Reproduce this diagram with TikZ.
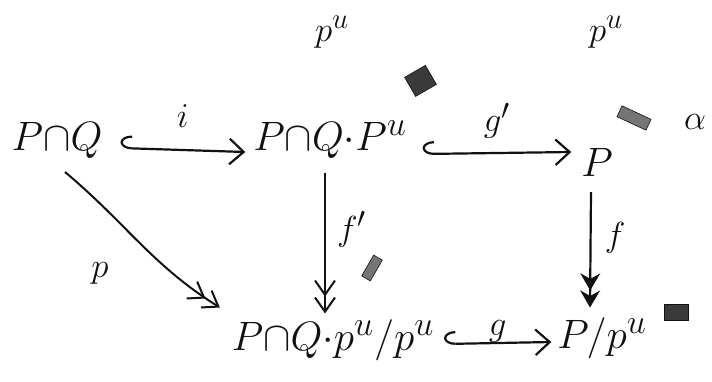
\documentclass[tikz,border=0pt]{standalone}
\usepackage{amsmath,amssymb}
\usepackage{tikz}
\usetikzlibrary{arrows.meta,positioning,calc}
\definecolor{ink}{HTML}{111111}
\definecolor{blot}{HTML}{3A3A3A}
\tikzset{
  obj/.style={inner sep=1pt, font=\Huge, scale=1.65, text=ink},
  lbl/.style={inner sep=2pt, font=\Huge, scale=1.4, text=ink},
  mono/.style={{Hooks[right,length=4mm,width=9mm]}-{Straight Barb[length=5mm,width=9mm]}, line width=2.2pt, color=ink},
  epi/.style={-{Straight Barb[length=5mm,width=7mm]Straight Barb[length=5mm,width=7mm]}, line width=2pt, color=ink},
  epifill/.style={-{Stealth[length=6mm,width=7mm]Stealth[length=6mm,width=7mm]}, line width=2.2pt, color=ink},
  scribble/.style={fill=blot, draw=ink, line width=.6pt}
}
\begin{document}
\begin{tikzpicture}[x=1pt,y=-1pt]
  \useasboundingbox (0,0) rectangle (712,381);

  % objects
  \node[obj] (pq)  at (57,140)  {$P{\cap}Q$};
  \node[obj] (mid) at (330,140) {$P{\cap}Q{\cdot}P^{u}$};
  \node[obj] (p)   at (597,162) {$P$};
  \node[obj] (bot) at (333,340) {$P{\cap}Q{\cdot}p^{u}/p^{u}$};
  \node[obj] (pp)  at (602,338) {$P/p^{u}$};

  % loose labels
  \node[lbl] (pu1) at (332,32) {$p^{u}$};
  \node[lbl] (pu2) at (606,32) {$p^{u}$};
  \node[lbl] (al)  at (695,122) {$\alpha$};

  % arrows
  \draw[mono] ($(pq.east)+(16,8)$) -- ($(mid.west)+(-6,12)$)
    node[lbl,midway,above=18pt] {$i$};
  \draw[mono] ($(mid.east)+(14,14)$) -- ($(p.west)+(-8,-10)$)
    node[lbl,midway,above=10pt] {$g'$};
  \draw[epi] ($(mid.south)+(-5,12)$) -- ($(bot.north)+(-8,-4)$)
    node[lbl,pos=.4,right=8pt] {$f'$};
  \draw[epifill] ($(p.south)+(-6,14)$) -- ($(pp.north)+(-12,-8)$)
    node[lbl,pos=.4,right=10pt] {$f$};
  \draw[epi] ($(pq.south)+(8,12)$) to[out=-40,in=148]
    node[lbl,pos=.3,below left=42pt and 0pt] {$p$} ($(bot.north west)+(-10,-10)$);
  \draw[mono] ($(bot.east)+(8,4)$) -- ($(pp.west)+(-4,4)$)
    node[lbl,midway,above=-4pt] {$g$};

  % scratched-out marks
  \fill[scribble,rotate around={30:(420,80)}] (408,70) rectangle (432,92);
  \fill[scribble,fill=blot!70,rotate around={-25:(634,118)}] (618,112) rectangle (650,124);
  \fill[scribble,fill=blot!70,rotate around={60:(372,268)}] (360,263) rectangle (384,273);
  \fill[scribble] (664,304) rectangle (688,320);
\end{tikzpicture}
\end{document}
